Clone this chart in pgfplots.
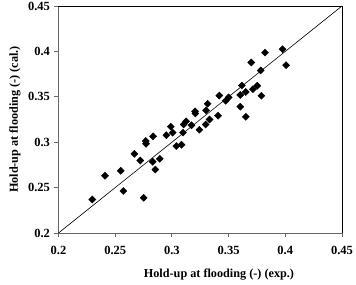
\documentclass[border=0pt]{standalone}
\usepackage{pgfplots}
\pgfplotsset{compat=1.18}
\usepackage{fontspec}
\setmainfont{Liberation Serif}
\begin{document}
\begin{tikzpicture}
\begin{axis}[
  name=ax,
  scale only axis,
  width=283.5pt, height=227pt,
  xmin=0.2, xmax=0.45, ymin=0.2, ymax=0.45,
  axis x line*=bottom, axis y line*=left,
  axis line style={draw=gray!80!black, line width=0.8pt},
  xtick={0.2,0.25,0.3,0.35,0.4,0.45},
  ytick={0.2,0.25,0.3,0.35,0.4,0.45},
  xticklabels={0.2,0.25,0.3,0.35,0.4,0.45},
  yticklabels={0.2,0.25,0.3,0.35,0.4,0.45},
  tick align=outside, major tick length=4pt,
  tick style={draw=gray!80!black, line width=0.8pt},
  tick label style={font=\fontsize{12.5}{14}\selectfont\bfseries},
  xticklabel style={yshift=-6pt},
  yticklabel style={xshift=-1pt},
  xlabel={Hold-up at flooding (-) (exp.)},
  ylabel={Hold-up at flooding (-) (cal.)},
  label style={font=\fontsize{12.2}{14}\selectfont\bfseries},
  xlabel style={at={(axis description cs:0.566,0)}, anchor=center, yshift=-42pt},
  ylabel style={at={(axis description cs:0,0.5)}, anchor=center, rotate=0, yshift=43.5pt},
  clip=false,
]
\addplot[black, line width=0.6pt] coordinates {(0.2,0.2) (0.45,0.45)};
\addplot[only marks, mark=square*, mark size=2.5pt, mark options={rotate=45, fill=black, draw=black}] table {
x y
0.2298 0.2369
0.2410 0.2630
0.2549 0.2685
0.2572 0.2463
0.2669 0.2872
0.2721 0.2798
0.2751 0.2388
0.2769 0.3013
0.2772 0.2983
0.2834 0.3065
0.2831 0.2785
0.2854 0.2699
0.2893 0.2817
0.2951 0.3077
0.2990 0.3171
0.3007 0.3105
0.3039 0.2958
0.3085 0.2972
0.3103 0.3195
0.3098 0.3105
0.3125 0.3230
0.3173 0.3187
0.3204 0.3340
0.3207 0.3316
0.3242 0.3137
0.3297 0.3195
0.3332 0.3250
0.3315 0.3424
0.3301 0.3351
0.3418 0.3514
0.3501 0.3494
0.3475 0.3456
0.3603 0.3391
0.3652 0.3280
0.3407 0.3292
0.3617 0.3624
0.3603 0.3520
0.3651 0.3553
0.3715 0.3584
0.3753 0.3622
0.3789 0.3511
0.3783 0.3790
0.3700 0.3878
0.3821 0.3986
0.3976 0.4024
0.4007 0.3848
};
\draw[black, line width=0.8pt] (rel axis cs:0,1) -- (rel axis cs:1,1) -- (rel axis cs:1,0);
\end{axis}
\pgfresetboundingbox
\useasboundingbox ([xshift=-58.5pt,yshift=-51pt]ax.south west) rectangle ([xshift=14pt,yshift=6pt]ax.north east);
\end{tikzpicture}
\end{document}
